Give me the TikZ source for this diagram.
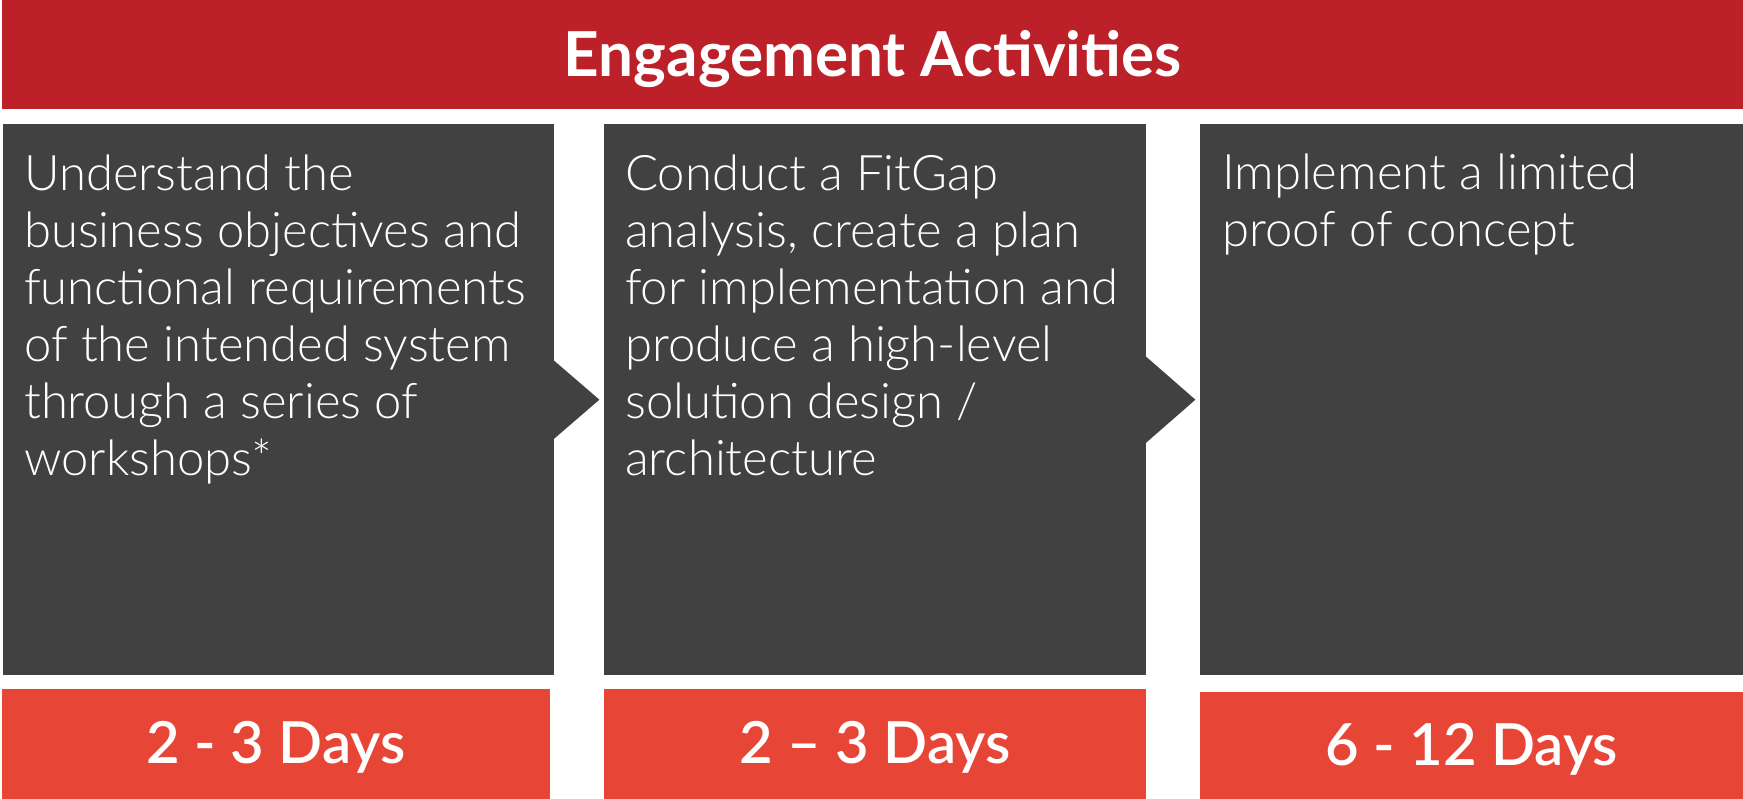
\documentclass[tikz,border=0pt]{standalone}
\usepackage{fontspec}
\setmainfont{Lato}
\newfontfamily\lightfont{Lato Light}
\newfontfamily\semifont{Lato Semibold}
\usepackage{xcolor}
\usepackage{tikz}
\usetikzlibrary{positioning,calc}

\definecolor{barred}{HTML}{BC2029}
\definecolor{boxgray}{HTML}{414141}
\definecolor{dayred}{HTML}{E74637}

\begin{document}
\begin{tikzpicture}[x=1pt, y=-1pt,
    stepbox/.style={fill=boxgray, minimum height=551, anchor=north west, inner sep=0},
    steptext/.style={anchor=base west, align=left, inner sep=0, text=white, font=\lightfont\fontsize{49}{57}\selectfont},
    daybox/.style={fill=dayred, anchor=north west, inner sep=0, text=white, text height=39, text depth=0, font=\semifont\fontsize{58}{60}\selectfont}]
    \useasboundingbox (0,0) rectangle (1743,799);

    % title bar
    \node[fill=barred, anchor=north west, inner sep=0, minimum width=1741, minimum height=109,
          text=white, text height=44, text depth=0, font=\bfseries\fontsize{62}{64}\selectfont] (title) at (2,0) {Engagement Activities};

    % activity boxes
    \node[stepbox, minimum width=551] (act1) at (3,124) {};
    \node[stepbox, minimum width=542] (act2) at (604,124) {};
    \node[stepbox, minimum width=543] (act3) at (1200,124) {};

    % chevrons
    \fill[boxgray] (act1.east) ++(-2,-40.5) -- ++(47,40.5) -- ++(-47,40.5) -- cycle;
    \fill[boxgray] (act2.east) ++(-2,-44.5) -- ++(51,44.5) -- ++(-51,44.5) -- cycle;

    % activity texts (base = last line)
    \node[steptext] (txt1) at (24,475) {Understand the\\business objectives and\\functional requirements\\of the intended system\\through a series of\\workshops*};
    \node[steptext] (txt2) at (625,475) {Conduct a FitGap\\analysis, create a plan\\for implementation and\\produce a high-level\\solution design /\\architecture};
    \node[steptext] (txt3) at (1222,247) {Implement a limited\\proof of concept};

    % durations
    \node[daybox, minimum width=548, minimum height=110] (days1) at (2,689) {2 - 3 Days};
    \node[daybox, minimum width=542, minimum height=110] (days2) at (604,689) {2 – 3 Days};
    \node[daybox, minimum width=543, minimum height=107] (days3) at (1200,692) {6 - 12 Days};
\end{tikzpicture}
\end{document}
